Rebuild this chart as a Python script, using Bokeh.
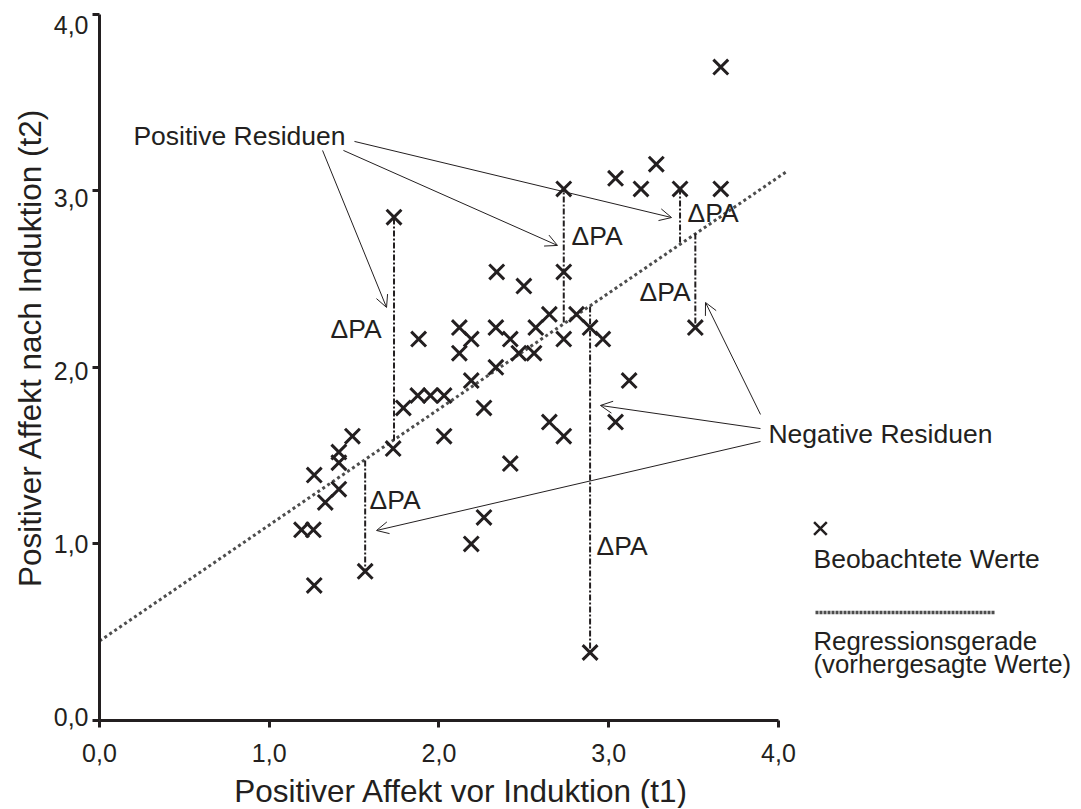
import math
from bokeh.plotting import figure
from bokeh.models import (Range1d, LinearAxis, FixedTicker, Label, Arrow, OpenHead)
from bokeh.embed import file_html
from bokeh.resources import INLINE

# ---- data ----
obs_x = [3.66, 3.04, 3.28, 3.19, 3.42, 3.66, 2.735, 1.735, 2.735, 2.34, 2.50, 2.65, 2.81,
         2.89, 2.965, 2.735, 3.51, 2.12, 2.335, 2.19, 2.57, 2.12, 2.42, 2.47, 2.56, 2.335,
         2.19, 2.265, 2.65, 2.735, 3.04, 3.12, 2.42, 2.265, 2.19, 2.89, 1.88, 1.79, 1.875,
         1.95, 2.03, 2.03, 1.73, 1.49, 1.41, 1.41, 1.265, 1.41, 1.33, 1.19, 1.26, 1.265, 1.565]
obs_y = [3.70, 3.07, 3.15, 3.01, 3.01, 3.01, 3.01, 2.85, 2.54, 2.54, 2.46, 2.30, 2.30,
         2.225, 2.16, 2.16, 2.225, 2.225, 2.225, 2.16, 2.225, 2.08, 2.16, 2.08, 2.08, 2.00,
         1.925, 1.77, 1.69, 1.61, 1.69, 1.925, 1.455, 1.15, 1.00, 0.385, 2.16, 1.77, 1.84,
         1.84, 1.84, 1.61, 1.54, 1.61, 1.52, 1.46, 1.39, 1.31, 1.235, 1.08, 1.08, 0.765, 0.845]

reg_x = [0.0, 4.05]
reg_y = [0.45, 3.11]

res_x = [1.735, 2.735, 3.42, 3.51, 2.89, 1.565]
res_obs = [2.85, 3.01, 3.01, 2.225, 0.385, 0.845]
res_pred = [1.585, 2.254, 2.707, 2.758, 2.344, 1.472]

tick_values = [0, 1, 2, 3, 4]
tick_labels = ["0,0", "1,0", "2,0", "3,0", "4,0"]

x_title = "Positiver Affekt vor Induktion (t1)"
y_title = "Positiver Affekt nach Induktion (t2)"

# ---- styles ----
INK = "#231f20"
GREY = "#4d4d4d"
FONT = "Liberation Sans"

p = figure(width=1080, height=808,
           x_range=Range1d(-0.5832, 5.7791), y_range=Range1d(-0.4983, 4.0770),
           output_backend="svg", toolbar_location=None,
           x_axis_location=None, y_axis_location=None,
           min_border_left=0, min_border_right=0, min_border_top=0, min_border_bottom=0)
p.grid.visible = False
p.outline_line_color = None
p.background_fill_color = "white"
p.border_fill_color = "white"

overrides = {v: l for v, l in zip(tick_values, tick_labels)}

# x axis, drawn at y = 0
xax = LinearAxis(bounds=(0, 4), ticker=FixedTicker(ticks=tick_values),
                 major_label_overrides=overrides, fixed_location=0)
xax.axis_line_width = 3
xax.axis_line_color = INK
xax.major_tick_line_width = 3
xax.major_tick_line_color = INK
xax.major_tick_out = 7
xax.major_tick_in = 0
xax.minor_tick_line_color = None
xax.major_label_text_font = FONT
xax.major_label_text_font_size = "25px"
xax.major_label_text_color = INK
xax.major_label_standoff = 16
p.add_layout(xax, "below")

# y axis line + ticks, drawn at x = 0
yax = LinearAxis(bounds=(0, 4), ticker=FixedTicker(ticks=tick_values),
                 major_label_overrides={v: "" for v in tick_values}, fixed_location=0)
yax.axis_line_width = 3
yax.axis_line_color = INK
yax.major_tick_line_width = 3
yax.major_tick_line_color = INK
yax.major_tick_out = 7
yax.major_tick_in = 0
yax.minor_tick_line_color = None
yax.major_label_text_font_size = "1px"
yax.major_label_standoff = 0
p.add_layout(yax, "left")

# y tick labels, spaced as in the original
p.extra_y_ranges = {"lab": Range1d(-0.5283, 4.1422)}
ylab = LinearAxis(y_range_name="lab", ticker=FixedTicker(ticks=tick_values),
                  major_label_overrides=overrides, fixed_location=0)
ylab.axis_line_color = None
ylab.major_tick_line_color = None
ylab.minor_tick_line_color = None
ylab.major_tick_out = 0
ylab.major_tick_in = 0
ylab.major_label_text_font = FONT
ylab.major_label_text_font_size = "25px"
ylab.major_label_text_color = INK
ylab.major_label_standoff = 11
p.add_layout(ylab, "left")

# regression line
p.line(reg_x, reg_y, line_color=GREY, line_width=3, line_dash="3 3")

# residuals
p.segment(x0=res_x, y0=res_pred, x1=res_x, y1=res_obs, line_color=INK,
          line_width=2, line_dash="6 2 2 2")

# observations
p.scatter(obs_x, obs_y, marker="x", size=21, line_width=3, line_color=INK)

# annotations
def lab(x, y, t, size="26.5px", align="left", angle=0.0):
    p.add_layout(Label(x=x, y=y, text=t, text_font=FONT, text_font_size=size,
                       text_color=INK, text_align=align, text_baseline="alphabetic",
                       angle=angle))

lab(0.200, 3.308, "Positive Residuen")
lab(3.941, 1.620, "Negative Residuen")
for (dx, dy) in [(1.361, 2.215), (2.781, 2.741), (3.464, 2.872), (3.181, 2.424),
                 (1.591, 1.246), (2.928, 0.986)]:
    lab(dx, dy, "\u0394PA")

arrows = [
    (1.314, 3.228, 1.691, 2.339),
    (1.437, 3.228, 2.698, 2.690),
    (1.502, 3.279, 3.370, 2.848),
    (3.894, 1.733, 3.570, 2.367),
    (3.894, 1.653, 2.951, 1.784),
    (3.894, 1.580, 1.632, 1.076),
]
for (xs, ys, xe, ye) in arrows:
    p.add_layout(Arrow(end=OpenHead(size=12, line_width=1, line_color=INK),
                       x_start=xs, y_start=ys, x_end=xe, y_end=ye,
                       line_width=1, line_color=INK))

# legend
p.scatter([4.247], [1.087], marker="x", size=18, line_width=2.5, line_color=INK)
lab(4.206, 0.912, "Beobachtete Werte")
p.line([4.218, 5.273], [0.612, 0.612], line_color=GREY, line_width=3.5, line_dash="3 1")
lab(4.206, 0.448, "Regressionsgerade", size="25.8px")
lab(4.206, 0.321, "(vorhergesagte Werte)", size="25.8px")

# axis titles
lab(2.1326, -0.402, x_title, size="31.5px", align="center")
lab(-0.4065, 2.112, y_title, size="31.5px", align="center", angle=math.pi / 2)

open("out.html", "w").write(file_html(p, INLINE))
